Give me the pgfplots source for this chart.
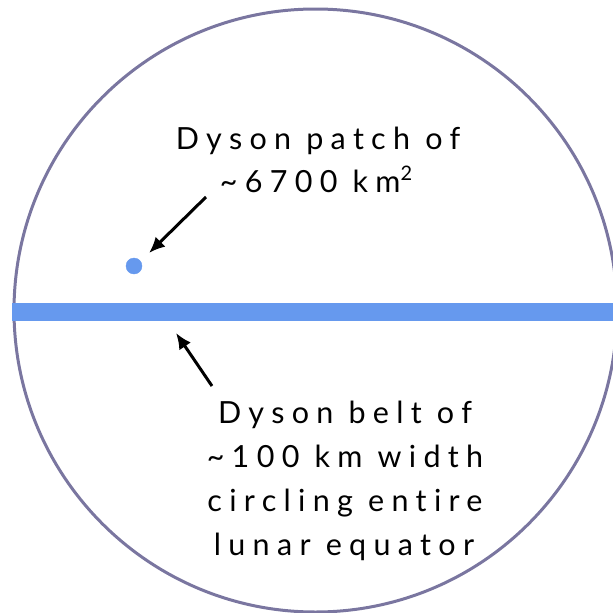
\documentclass[border=0pt]{standalone}
\usepackage{pgfplots}
\pgfplotsset{compat=1.18}
\usepackage{fontspec}
\setmainfont{Lato}[LetterSpace=24, Ligatures={NoCommon}]
\usetikzlibrary{arrows.meta}
\definecolor{belt}{RGB}{102,153,238}
\definecolor{moon}{RGB}{122,118,160}
\begin{document}
\begin{tikzpicture}
\begin{axis}[width=613pt,height=613pt,scale only axis,hide axis,
  xmin=0,xmax=613,ymin=0,ymax=613,y dir=reverse,clip=true]
\draw[moon, line width=3pt] (axis cs:315.5,310.5) circle[radius=301.5pt];
\addplot[draw=none, fill=belt] coordinates {(12,303) (620,303) (620,321) (12,321)} -- cycle;
\addplot[only marks, mark=*, mark size=8pt, color=belt] coordinates {(134,266)};
\addplot[-{Latex[length=16pt,width=14pt]}, line width=3pt, black] coordinates {(206,197) (149,253)};
\addplot[-{Latex[length=16pt,width=14pt]}, line width=3pt, black] coordinates {(212,386) (176,333)};
\begin{scope}[every node/.style={anchor=base, inner sep=0pt, font=\fontsize{30.5}{36}\selectfont}]
\node at (axis cs:318,149) {Dyson patch of};
\node at (axis cs:316,192) {\textasciitilde 6700 km\raisebox{0.75ex}{\fontsize{20}{20}\selectfont 2}};
\node at (axis cs:345,423) {Dyson belt of};
\node at (axis cs:345,467) {\textasciitilde 100 km width};
\node at (axis cs:345,511) {circling entire};
\node at (axis cs:344,555) {lunar equator};
\end{scope}
\end{axis}
\pgfresetboundingbox
\useasboundingbox (current axis.south west) rectangle (current axis.north east);
\end{tikzpicture}
\end{document}
